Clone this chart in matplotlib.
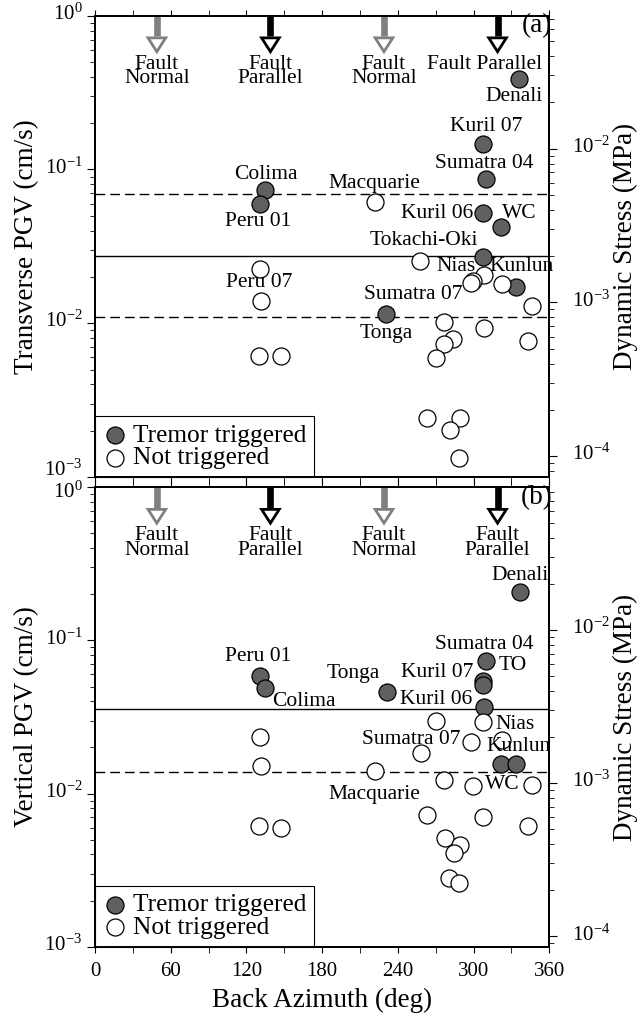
import matplotlib
matplotlib.use('Agg')
import matplotlib.pyplot as plt
import matplotlib.transforms as mtransforms
from matplotlib.patches import Polygon
from matplotlib.ticker import LogLocator, NullFormatter, MultipleLocator

plt.rcParams['font.family'] = 'Liberation Serif'
plt.rcParams['mathtext.fontset'] = 'stix'

# ---- transverse (a) ----
t_trig_az = [134.7, 130.7, 336.2, 307.7, 309.8, 307.7, 321.7, 307.7, 333.6, 230.3]
t_trig_pgv = [0.0733, 0.0593, 0.387, 0.146, 0.0862, 0.0518, 0.042, 0.0270, 0.0171, 0.01146]
t_not_az = [221.9, 257.5, 308.6, 299.8, 297.9, 322.3, 346.5, 276.8, 308.6, 283.9, 276.8,
            342.9, 270.2, 263.3, 289.2, 281.3, 288.4, 130.7, 131.3, 130.2, 147.1]
t_not_pgv = [0.0616, 0.0255, 0.0207, 0.0189, 0.0184, 0.0179, 0.0130, 0.0102, 0.00925, 0.00788, 0.00731,
             0.00768, 0.0059, 0.00242, 0.00242, 0.00201, 0.00132, 0.0227, 0.0140, 0.00614, 0.00614]
t_solid = 0.0273
t_dashed = [0.0688, 0.0110]
t_stress_fac = 0.0732   # MPa per cm/s (Love wave)

# ---- vertical (b) ----
v_trig_az = [130.7, 134.7, 336.8, 309.8, 307.7, 307.7, 308.5, 231.1, 321.5, 333.6]
v_trig_pgv = [0.0586, 0.0491, 0.206, 0.0737, 0.0540, 0.0515, 0.0366, 0.0462, 0.0157, 0.0157]
v_not_az = [270.2, 307.7, 298.3, 322.3, 258.1, 221.9, 276.8, 299.8, 346.5, 263.3, 307.7,
            343.4, 277.3, 289.2, 284.5, 280.7, 288.4, 130.7, 131.3, 130.2, 147.1]
v_not_pgv = [0.0300, 0.0293, 0.0218, 0.0223, 0.0185, 0.0141, 0.0123, 0.0112, 0.0114, 0.00728, 0.00708,
             0.00614, 0.00510, 0.00458, 0.00410, 0.00280, 0.00259, 0.0233, 0.0151, 0.00614, 0.00598]
v_solid = 0.0355
v_dashed = [0.0139]
v_stress_fac = 0.0857   # MPa per cm/s (Rayleigh wave)

# fault directions
fault_az = [49, 139, 229, 319]
fault_kind = ['Normal', 'Parallel', 'Normal', 'Parallel']

# event names (label text, azimuth, pgv)
t_labels = [('Colima', 135.3, 0.0931), ('Peru 01', 129.4, 0.0457), ('Macquarie', 221.2, 0.0807),
            ('Denali', 331.9, 0.300), ('Kuril 07', 309.8, 0.190), ('Sumatra 04', 308.6, 0.1096),
            ('Kuril 06', 271.4, 0.0518), ('WC', 336.4, 0.0518), ('Tokachi-Oki', 260.6, 0.0344),
            ('Nias', 286.3, 0.0233), ('Kunlun', 337.7, 0.0233), ('Sumatra 07', 252.5, 0.01546),
            ('Tonga', 231.1, 0.00858), ('Peru 07', 130.2, 0.01832)]
v_labels = [('Peru 01', 129.4, 0.0783), ('Colima', 165.7, 0.0398), ('Tonga', 204.4, 0.0610),
            ('Denali', 336.5, 0.267), ('Sumatra 04', 308.6, 0.0947), ('TO', 331.1, 0.0691),
            ('Kuril 07', 271.3, 0.0615), ('Kuril 06', 270.7, 0.0412), ('Nias', 332.8, 0.0284),
            ('Kunlun', 335.8, 0.0204), ('Sumatra 07', 250.6, 0.0224), ('Macquarie', 221.2, 0.00993),
            ('WC', 322.6, 0.01148)]

fig = plt.figure(figsize=(6.42, 10.21), dpi=100)
ax1 = fig.add_axes([0.148, 0.5328, 0.7076, 0.4518])
ax2 = fig.add_axes([0.148, 0.0728, 0.7076, 0.4499])

fs = 15.5


def lift(pts):
    return mtransforms.ScaledTranslation(0, pts / 72, fig.dpi_scale_trans)


def style_logy(ax, pad):
    ax.yaxis.set_major_locator(LogLocator(base=10, numticks=10))
    ax.yaxis.set_minor_locator(LogLocator(base=10, subs=range(2, 10), numticks=20))
    ax.yaxis.set_minor_formatter(NullFormatter())
    ax.tick_params(axis='y', which='major', direction='out', length=6, labelsize=15, pad=pad)
    ax.tick_params(axis='y', which='minor', direction='out', length=3.5)


def panel(ax, trig_az, trig_pgv, not_az, not_pgv, solid, dashed, fac, labels, tag, ylabel,
          last_two_line, left_shift):
    ax.set_yscale('log')
    ax.set_xlim(0, 360)
    ax.set_ylim(1e-3, 1)
    ax.axhline(solid, color='k', lw=1.0, zorder=1)
    for d in dashed:
        ax.axhline(d, color='k', lw=1.0, dashes=(7, 3.6), zorder=1)
    ax.scatter(trig_az, trig_pgv, s=150, c='#606060', edgecolors='k', linewidths=0.9,
               zorder=3, label='Tremor triggered')
    ax.scatter(not_az, not_pgv, s=150, c='white', edgecolors='k', linewidths=0.9,
               zorder=3, label='Not triggered')
    for name, az, p in labels:
        ax.text(az, p, name, ha='center', va='center', fontsize=fs, zorder=4)
    ax.text(0.973, 0.978, tag, transform=ax.transAxes, ha='center', va='center', fontsize=19.5,
            zorder=8)

    # fault direction arrows
    trans = mtransforms.blended_transform_factory(ax.transData, ax.transAxes)
    for i, (az, kind) in enumerate(zip(fault_az, fault_kind)):
        col = '#808080' if kind == 'Normal' else 'k'
        ax.plot([az, az], [1.0, 0.955], color=col, lw=4.8, transform=trans,
                solid_capstyle='butt', zorder=5, clip_on=False)
        head = Polygon([[az - 7.0, 0.952], [az + 7.0, 0.952], [az, 0.922]], closed=True,
                       facecolor='white', edgecolor=col, lw=2.0, transform=trans, zorder=6)
        ax.add_patch(head)
        if i == 3 and not last_two_line:
            ax.text(309, 0.915, 'Fault Parallel', transform=trans, ha='center', va='top',
                    fontsize=fs)
        else:
            ax.text(az, 0.915, 'Fault\n' + kind, transform=trans, ha='center', va='top',
                    fontsize=fs, linespacing=0.66)

    ax.xaxis.set_major_locator(MultipleLocator(60))
    ax.xaxis.set_minor_locator(MultipleLocator(30))
    ax.tick_params(axis='x', which='both', direction='out', length=4, top=True, labelsize=15, pad=7)
    style_logy(ax, 3)
    ax.set_ylabel(ylabel, fontsize=19.5, labelpad=4)
    for sp in ax.spines.values():
        sp.set_linewidth(1.4)

    leg = ax.legend(loc='lower left', bbox_to_anchor=(0, 0), borderaxespad=0, fancybox=False,
                    framealpha=1, edgecolor='k', fontsize=18.3, handletextpad=0.2,
                    labelspacing=0.0, borderpad=0.3, handlelength=1.0, scatterpoints=1)
    leg.get_frame().set_linewidth(0.8)
    leg.set_zorder(7)

    ax_r = ax.twinx()
    ax_r.set_yscale('log')
    ax_r.set_ylim(1e-3 * fac, 1 * fac)
    style_logy(ax_r, 10)
    ax_r.set_ylabel('Dynamic Stress (MPa)', fontsize=19.5, labelpad=2)
    for sp in ax_r.spines.values():
        sp.set_linewidth(1.4)

    # tick labels sit a little above their ticks, as in the original
    for a in (ax, ax_r):
        locs = a.yaxis.get_majorticklocs()
        for loc, t in zip(locs, a.yaxis.get_major_ticks(len(locs))):
            up = 3.0
            if a is ax and loc in left_shift:
                up = left_shift[loc]
            t.label1.set_transform(t.label1.get_transform() + lift(up))
            t.label2.set_transform(t.label2.get_transform() + lift(up))
    return ax_r


panel(ax1, t_trig_az, t_trig_pgv, t_not_az, t_not_pgv, t_solid, t_dashed, t_stress_fac,
      t_labels, '(a)', 'Transverse PGV (cm/s)', False, {1e-3: 6.5})
panel(ax2, v_trig_az, v_trig_pgv, v_not_az, v_not_pgv, v_solid, v_dashed, v_stress_fac,
      v_labels, '(b)', 'Vertical PGV (cm/s)', True, {1.0: -1.5})

ax1.tick_params(axis='x', labelbottom=False)
ax2.set_xlabel('Back Azimuth (deg)', fontsize=19.5, labelpad=5)

fig.savefig('out.png', dpi=100)
